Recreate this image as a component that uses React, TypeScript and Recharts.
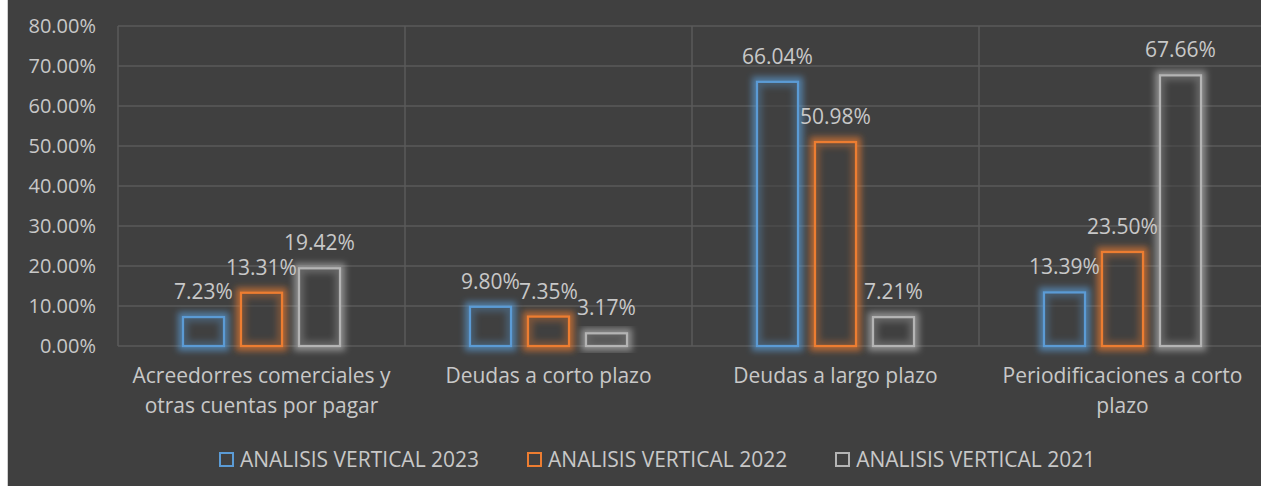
import React from "react";
import { BarChart, Bar, XAxis, YAxis, CartesianGrid, Legend, LabelList } from "recharts";

// Categories (with Excel's line breaks) and values (percent)
const CATEGORIES = [
  "Acreedorres comerciales y\notras cuentas por pagar",
  "Deudas a corto plazo",
  "Deudas a largo plazo",
  "Periodificaciones a corto\nplazo",
];
const V2023 = [7.23, 9.8, 66.04, 13.39];
const V2022 = [13.31, 7.35, 50.98, 23.5];
const V2021 = [19.42, 3.17, 7.21, 67.66];
const Y_TICKS = [0, 10, 20, 30, 40, 50, 60, 70, 80];

const SERIES = [
  { key: "v2023", name: "ANALISIS VERTICAL 2023", color: "#5b9bd5" },
  { key: "v2022", name: "ANALISIS VERTICAL 2022", color: "#ed7d31" },
  { key: "v2021", name: "ANALISIS VERTICAL 2021", color: "#b4b4b4" },
];

const data = CATEGORIES.map((cat, i) => ({
  cat,
  v2023: V2023[i],
  v2022: V2022[i],
  v2021: V2021[i],
}));

const FONT = "'Open Sans', sans-serif";
const TXT = "#c8c8c8";
const BG = "#404040";
const GRID = "#5a5a5a";

const pct = (v: any) => `${Number(v).toFixed(2)}%`;

const glowShape = (color: string) => (p: any) => {
  const { x, y, width, height } = p;
  if (height == null || width == null) return null;
  return (
    <g>
      <rect x={x} y={y} width={width} height={height} fill="none" stroke={color} strokeWidth={10} strokeOpacity={0.65} filter="url(#glow)" />
      <rect x={x} y={y} width={width} height={height} fill={BG} fillOpacity={0.5} stroke={color} strokeWidth={2.25} />
    </g>
  );
};

const CatTick = (p: any) => {
  const lines = String(p.payload.value).split("\n");
  return (
    <text x={p.x} y={p.y + 14} textAnchor="middle" fill={TXT} fontSize={21} fontFamily={FONT}>
      {lines.map((ln, i) => (
        <tspan key={i} x={p.x} dy={i === 0 ? 0 : 30}>{ln}</tspan>
      ))}
    </text>
  );
};

const LegendContent = () => (
  <div style={{ display: "flex", alignItems: "center", paddingLeft: 211, height: 24, fontFamily: FONT, fontSize: 21, color: TXT }}>
    {SERIES.map((s) => (
      <div key={s.key} style={{ display: "flex", alignItems: "center", marginRight: 48 }}>
        <span style={{ display: "inline-block", width: 11, height: 11, border: `2px solid ${s.color}`, marginRight: 6 }} />
        <span style={{ whiteSpace: "nowrap" }}>{s.name}</span>
      </div>
    ))}
  </div>
);

export default function App() {
  return (
    <div style={{
      position: "absolute", top: 0, left: 7, width: 1254, height: 486,
      borderLeft: "1px solid #cfcfcf", overflow: "hidden", background: BG,
    }}>
      <BarChart
        width={1262}
        height={486}
        data={data}
        margin={{ top: 26, right: 4, bottom: 15, left: 0 }}
        barSize={41}
        barGap={17}
      >
        <defs>
          <filter id="glow" x="-50%" y="-50%" width="200%" height="200%">
            <feGaussianBlur stdDeviation="3" />
          </filter>
        </defs>
        <CartesianGrid
          stroke={GRID}
          strokeWidth={1.5}
          verticalCoordinatesGenerator={({ offset }: any) =>
            [0, 1, 2, 3, 4].map((i) => offset.left + (i * offset.width) / 4)
          }
        />
        <XAxis
          dataKey="cat"
          axisLine={false}
          tickLine={false}
          tickSize={0}
          tickMargin={23}
          height={101}
          interval={0}
          tick={<CatTick />}
        />
        <YAxis
          domain={[0, 80]}
          ticks={Y_TICKS}
          axisLine={false}
          tickLine={false}
          tickSize={0}
          tickMargin={22}
          width={110}
          tickFormatter={pct}
          tick={{ fill: TXT, fontSize: 20, fontFamily: FONT }}
        />
        <Legend verticalAlign="bottom" content={<LegendContent />} />
        {SERIES.map((s) => (
          <Bar key={s.key} dataKey={s.key} name={s.name} fill={s.color} shape={glowShape(s.color)} isAnimationActive={false}>
            <LabelList dataKey={s.key} position="top" offset={18} formatter={pct} fill={TXT} fontSize={21} fontFamily={FONT} />
          </Bar>
        ))}
      </BarChart>
    </div>
  );
}
